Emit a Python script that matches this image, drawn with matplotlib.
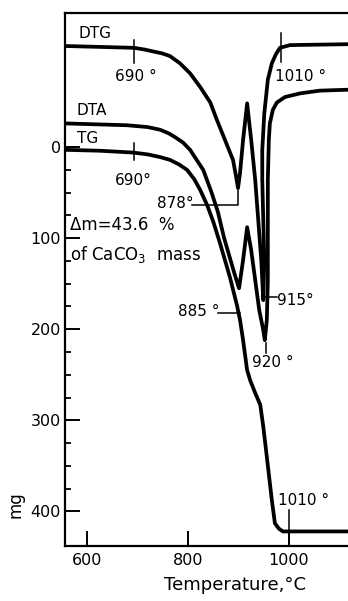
import matplotlib
matplotlib.use("Agg")
import matplotlib.pyplot as plt
from matplotlib.ticker import FixedLocator

# temperatures (deg C) and curve levels (mg, axis runs downward)
dtg_t = [557, 626, 693, 715, 731, 748, 764, 784, 804, 824, 844, 857, 873, 889, 895, 899, 903, 909,
         917, 925, 933, 939, 945, 949, 951, 949, 947, 947, 951, 958, 966, 974, 982, 1002, 1117]
dtg_m = [-111, -110, -109, -107, -105, -103, -100, -92, -81, -66, -49, -30, -8, 14, 32, 45, 28, -8,
         -48, -8, 36, 80, 124, 168, 124, 80, 36, 3, -37, -74, -92, -102, -109, -112, -113]

dta_t = [557, 679, 720, 745, 762, 774, 790, 804, 830, 846, 859, 871, 883, 893, 901, 909, 917, 925, 933,
         941, 949, 952, 956, 958, 958, 958, 960, 962, 968, 976, 992, 1022, 1061, 1117]
dta_m = [-26, -24, -22, -19, -15, -11, -5, 3, 25, 49, 71, 99, 122, 141, 155, 124, 88, 113, 146,
         179, 201, 212, 190, 146, 91, 36, -8, -26, -41, -49, -55, -59, -62, -63]

tg_t = [557, 626, 691, 720, 745, 764, 782, 798, 812, 824, 838, 850, 863, 883, 897, 903, 909, 917, 923,
        933, 943, 949, 956, 966, 972, 980, 988, 1117]
tg_m = [3, 4, 6, 8, 11, 14, 19, 25, 35, 47, 64, 82, 105, 143, 174, 190, 212, 245, 256,
        270, 283, 307, 340, 388, 413, 419, 422, 422]

xticks = [600, 800, 1000]
yticks = [0, 100, 200, 300, 400]
yminor = [25, 50, 75, 125, 150, 175, 225, 250, 275, 325, 350, 375]

fig = plt.figure(figsize=(3.48, 6.01), dpi=100)
ax = fig.add_axes([0.187, 0.0915, 0.813, 0.8865])

for t, m in [(dtg_t, dtg_m), (dta_t, dta_m), (tg_t, tg_m)]:
    ax.plot(t, m, color="black", lw=2.7, solid_joinstyle="round", solid_capstyle="round")

ax.set_xlim(556.4, 1116.8)
ax.set_ylim(438, -147)
ax.set_xticks(xticks)
ax.set_yticks(yticks)
ax.yaxis.set_minor_locator(FixedLocator(yminor))
ax.tick_params(axis="both", which="major", direction="in", length=11, width=1.4,
               labelsize=11.5, pad=3)
ax.tick_params(axis="x", which="major", pad=5)
ax.tick_params(axis="y", which="minor", direction="in", length=4.5, width=1.3)
ax.spines["right"].set_visible(False)
for s in ["left", "top", "bottom"]:
    ax.spines[s].set_linewidth(1.6)

ax.set_xlabel("Temperature,°C", fontsize=13)
ax.xaxis.set_label_coords(0.60, -0.056)
fig.text(15 / 348, 1 - 505 / 601, "mg", rotation=90, ha="center", va="center", fontsize=12)

fs = 11
ax.text(582, -125, "DTG", fontsize=fs, va="center")
ax.text(580, -40, "DTA", fontsize=fs, va="center")
ax.text(580, -9, "TG", fontsize=fs, va="center")

ax.text(655, -77, "690 °", fontsize=fs, va="center")
ax.plot([693, 693], [-118, -92], color="black", lw=1.1)
ax.text(972, -78, "1010 °", fontsize=fs, va="center")
ax.plot([984, 984], [-125, -93], color="black", lw=1.1)

ax.text(655, 37, "690°", fontsize=fs, va="center")
ax.plot([693, 693], [-4, 14], color="black", lw=1.1)

ax.text(738, 62, "878°", fontsize=fs, va="center")
ax.plot([808, 899, 899], [64, 64, 47], color="black", lw=1.1)

ax.text(566, 85, "Δm=43.6  %", fontsize=12, va="center")
ax.text(566, 118, "of CaCO$_3$  mass", fontsize=12, va="center")

ax.text(780, 180, "885 °", fontsize=fs, va="center")
ax.plot([859, 903], [182, 182], color="black", lw=1.1)

ax.text(976, 168, "915°", fontsize=fs, va="center")
ax.plot([948, 976], [165, 165], color="black", lw=1.1)

ax.text(927, 236, "920 °", fontsize=fs, va="center")
ax.plot([954, 954], [215, 226], color="black", lw=1.1)

ax.text(978, 388, "1010 °", fontsize=fs, va="center")
ax.plot([1000, 1000], [399, 431], color="black", lw=1.1)

fig.savefig("out.png", dpi=100)
